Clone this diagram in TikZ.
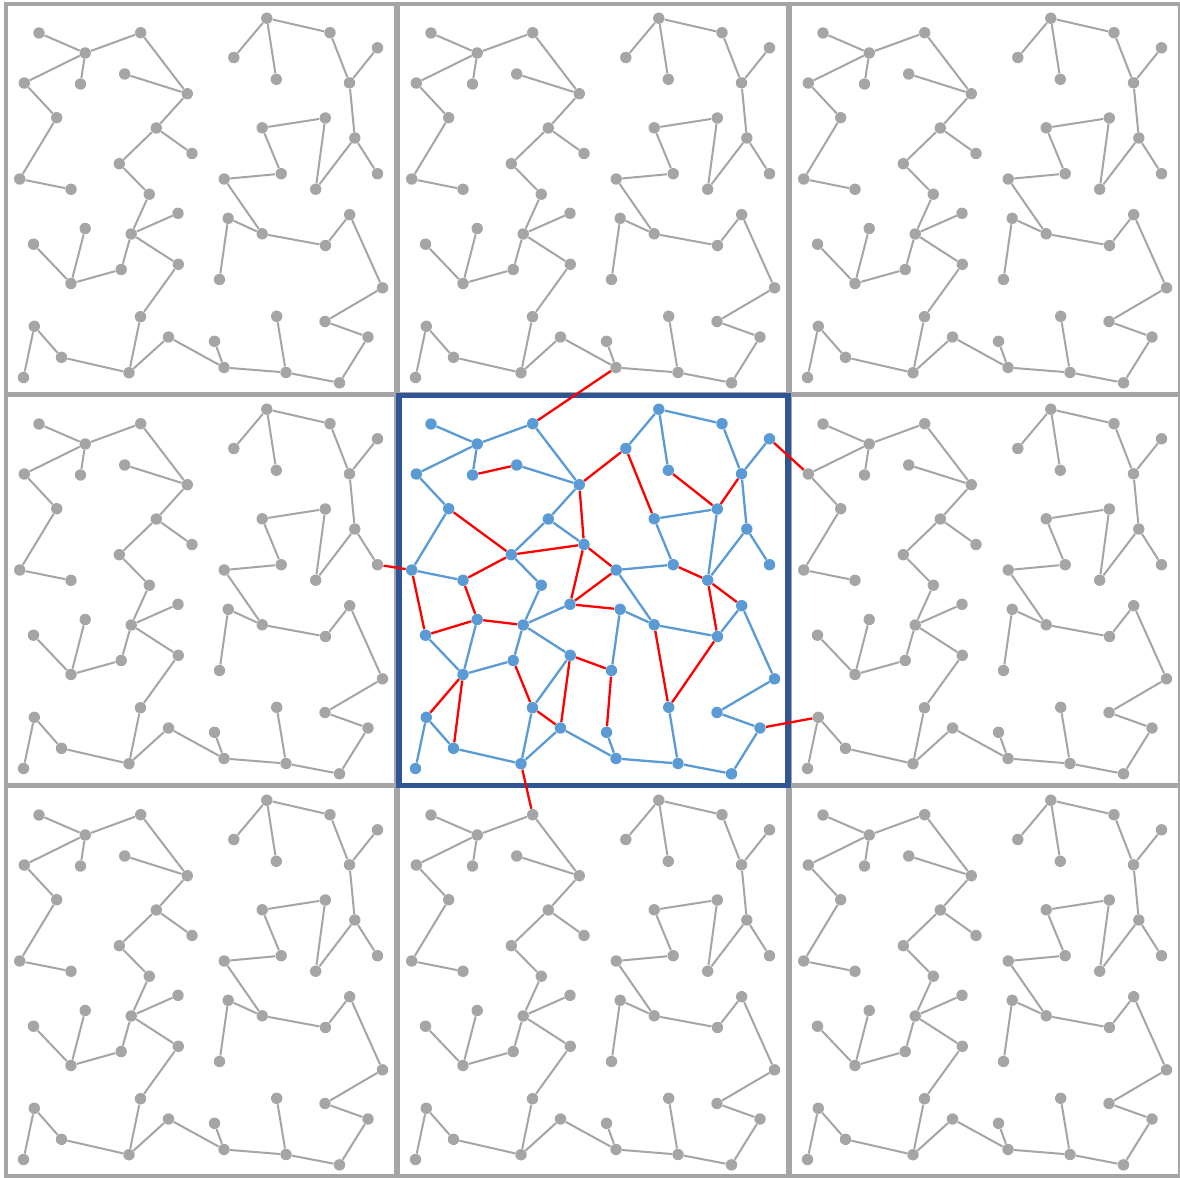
\documentclass[tikz,border=0pt]{standalone}
\definecolor{tilegray}{RGB}{165,165,165}
\definecolor{nodeblue}{RGB}{91,155,213}
\definecolor{edgered}{RGB}{255,0,0}
\definecolor{frameblue}{RGB}{47,85,151}
\tikzset{
  graynode/.style={circle,fill=tilegray,inner sep=0pt,minimum size=5.7pt},
  bluenode/.style={circle,fill=nodeblue,inner sep=0pt,minimum size=5.7pt},
  grayedge/.style={draw=tilegray,line width=1pt},
  blueedge/.style={draw=nodeblue,line width=1.15pt},
  rededge/.style={draw=edgered,line width=1.15pt},
  tileframe/.style={draw=tilegray,line width=2.3pt},
  centerframe/.style={draw=frameblue,line width=2.6pt}
}
\def\nodelist{A/431/424, B/477.2/444, C/532.7/423.7, D/416.3/474, E/472.5/475, F/516.7/465, G/579.3/484.7, H/448.7/508.7, I/548.3/519, J/584/544.5, K/511.3/554.7, L/411.7/570, M/463/580.3, N/541.3/585.2, P/658.8/409.2, Q/722/423.7, R/625.8/448.5, S/668.3/470.3, T/769.5/438.8, U/741.5/473.8, V/717.3/509, W/654.2/518.8, X/746.8/529, Y/616.2/570, Z/673.2/564.7, AA/769.5/564.7, AB/707.7/580.2, BA/570/604.3, BB/477.2/619.5, BC/523.2/625, BD/425.5/635.2, BE/513.2/660.5, BF/570.3/655.3, BG/463/674.5, BH/532.5/707.7, BI/426.3/717.3, BJ/560.5/728, BK/453.5/748.3, BL/521/763.7, BM/415.5/768.5, CA/620.2/609.3, CB/654.2/624.8, CC/741.7/605.7, CD/717.5/636.5, CE/611.5/670.5, CF/774.5/678.8, CG/668.7/707.3, CH/717/712.5, CI/760/728, CJ/606.5/732.3, CK/616/758.5, CL/678/763.5, CM/731.5/773.8}
\def\treelist{A/B, B/C, B/D, B/E, F/G, C/G, D/H, H/L, L/M, G/I, I/J, I/K, K/N, P/R, P/Q, P/S, Q/U, U/T, U/X, X/AB, X/AA, V/AB, W/V, W/Z, Z/Y, Y/CB, BA/BC, BC/N, BC/BE, BC/BF, BB/BG, BD/BG, BG/BE, BF/BH, BI/BK, BI/BM, BK/BL, BH/BL, BJ/BL, BJ/CK, CA/CB, CB/CD, CC/CD, CC/CF, CA/CE, CG/CL, CF/CH, CH/CI, CI/CM, CJ/CK, CK/CL, CL/CM}
\def\redlist{E/F, H/K, K/J, G/J, K/M, G/R, R/W, S/V, V/U, Z/AB, J/Y, L/BD, M/BB, BB/BD, BB/BC, BE/BH, BG/BI, BG/BK, BF/BJ, BH/BJ, J/BA, BA/Y, BA/CA, BF/CE, CE/CJ, AB/CD, AB/CC, CD/CG, CB/CG}
\begin{document}
\begin{tikzpicture}[x=0.5pt,y=-0.5pt]
\useasboundingbox (0,0) rectangle (1180,1178);
\fill[white] (0,0) rectangle (1180,1178);
% tile frames
\foreach \i in {0,1,2}{
  \foreach \j in {0,1,2}{
    \draw[tileframe] (6+\i*392,4+\j*391) rectangle ++(390,390);
  }
}
\draw[centerframe] (399,395.5) rectangle (788,785.5);
% gray copies
\foreach \i/\j in {0/0,1/0,2/0,0/1,2/1,0/2,1/2,2/2}{
  \begin{scope}[shift={(\i*392-392,\j*391-391)}]
    \foreach \n/\x/\y in \nodelist { \node[graynode] (t\i\j-\n) at (\x,\y) {}; }
    \foreach \a/\b in \treelist { \draw[grayedge] (t\i\j-\a) -- (t\i\j-\b); }
  \end{scope}
}
% center tile
\foreach \n/\x/\y in \nodelist { \node[bluenode] (c-\n) at (\x,\y) {}; }
\foreach \a/\b in \treelist { \draw[blueedge] (c-\a) -- (c-\b); }
\foreach \a/\b in \redlist { \draw[rededge] (c-\a) -- (c-\b); }
% edges leaving the center tile
\draw[rededge] (c-C) -- (t10-CK);
\draw[rededge] (c-L) -- (t01-AA);
\draw[rededge] (c-T) -- (t21-D);
\draw[rededge] (c-CI) -- (t21-BI);
\draw[rededge] (c-BL) -- (t12-C);
\end{tikzpicture}
\end{document}
